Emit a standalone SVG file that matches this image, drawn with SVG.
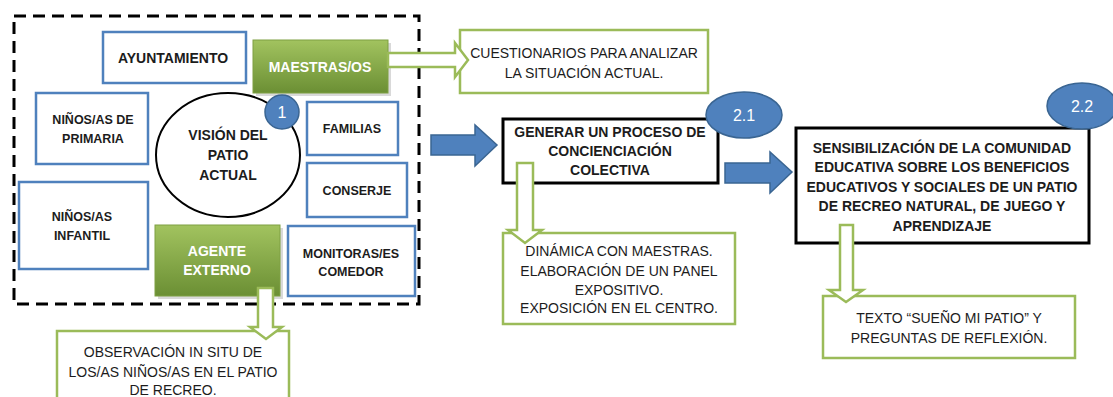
<svg xmlns="http://www.w3.org/2000/svg" width="1113" height="397" viewBox="0 0 1113 397">
<defs>
<linearGradient id="gg" x1="0" y1="0" x2="0" y2="1">
<stop offset="0" stop-color="#a2c35f"/>
<stop offset="1" stop-color="#6b8f34"/>
</linearGradient>
<style>
text{font-family:"Liberation Sans",Arial,sans-serif;fill:#1c1c1c;text-anchor:middle}
.b{font-weight:bold}
.s{font-size:12.5px}
.m{font-size:14px}
.w{fill:#ffffff}
.blue{fill:#ffffff;stroke:#4f81bd;stroke-width:2.5}
.green{fill:#ffffff;stroke:#9bbb59;stroke-width:2.5}
.black{fill:#ffffff;stroke:#000000;stroke-width:3}
.gbox{fill:url(#gg);stroke:#7fa043;stroke-width:1}
.badge{fill:#4f81bd;stroke:#3a6592;stroke-width:1.5}
.bt{fill:#ffffff;font-size:16px}
.harrow{fill:#ffffff;stroke:#9bbb59;stroke-width:2.5;stroke-linejoin:miter}
.barrow{fill:#4f81bd;stroke:#3a6592;stroke-width:1.5}
</style>
</defs>
<rect width="1113" height="397" fill="#ffffff"/>
<rect id="frame" x="14" y="16" width="405" height="288" fill="none" stroke="#000" stroke-width="3" stroke-dasharray="12 7"/>

<g id="ayuntamiento"><rect class="blue" x="103" y="32" width="143" height="51"/><text class="b" font-size="14" x="173" y="63">AYUNTAMIENTO</text></g>
<g id="maestras"><rect x="256" y="43" width="135" height="53" fill="#000" opacity="0.15"/><rect class="gbox" x="253" y="40" width="135" height="53"/><text class="b m w" x="320" y="72">MAESTRAS/OS</text></g>
<g id="primaria"><rect class="blue" x="36" y="93" width="112" height="71"/><text class="b s" x="93" y="124">NIÑOS/AS DE</text><text class="b s" x="93" y="143">PRIMARIA</text></g>
<g id="vision"><ellipse cx="228" cy="155" rx="72" ry="62" fill="#fff" stroke="#000" stroke-width="2"/><text class="b m" x="228" y="140">VISIÓN DEL</text><text class="b m" x="228" y="160">PATIO</text><text class="b m" x="228" y="180">ACTUAL</text></g>
<g id="badge1"><circle class="badge" cx="282" cy="112" r="17"/><text class="bt" x="282" y="118">1</text></g>
<g id="familias"><rect class="blue" x="307" y="102" width="91" height="53"/><text class="b s" x="352" y="133">FAMILIAS</text></g>
<g id="conserje"><rect class="blue" x="307" y="163" width="100" height="54"/><text class="b s" x="357" y="195">CONSERJE</text></g>
<g id="infantil"><rect class="blue" x="19" y="182" width="129" height="87"/><text class="b s" x="82" y="221">NIÑOS/AS</text><text class="b s" x="82" y="240">INFANTIL</text></g>
<g id="agente"><rect x="158" y="228" width="125" height="71" fill="#000" opacity="0.15"/><rect class="gbox" x="155" y="225" width="125" height="71"/><text class="b m w" x="217" y="256">AGENTE</text><text class="b m w" x="217" y="275">EXTERNO</text></g>
<g id="monitoras"><rect class="blue" x="288" y="226" width="127" height="70"/><text class="b s" x="351" y="258">MONITORAS/ES</text><text class="b s" x="351" y="276">COMEDOR</text></g>

<g id="cuestionarios"><rect class="green" x="460" y="30" width="248" height="63"/><text class="m" x="584" y="58">CUESTIONARIOS PARA ANALIZAR</text><text class="m" x="584" y="78">LA SITUACIÓN ACTUAL.</text></g>
<g id="generar"><rect class="black" x="503" y="119" width="215" height="64"/><text class="b m" x="610" y="137">GENERAR UN PROCESO DE</text><text class="b m" x="610" y="156">CONCIENCIACIÓN</text><text class="b m" x="610" y="175">COLECTIVA</text></g>
<g id="dinamica"><rect class="green" x="503" y="233" width="232" height="91"/><text class="m" x="619" y="256">DINÁMICA CON MAESTRAS.</text><text class="m" x="619" y="276">ELABORACIÓN DE UN PANEL</text><text class="m" x="619" y="295">EXPOSITIVO.</text><text class="m" x="619" y="313">EXPOSICIÓN EN EL CENTRO.</text></g>
<g id="sensibilizacion"><rect class="black" x="796" y="128" width="293" height="115"/><text class="b m" x="942" y="153">SENSIBILIZACIÓN DE LA COMUNIDAD</text><text class="b m" x="942" y="172">EDUCATIVA SOBRE LOS BENEFICIOS</text><text class="b m" x="942" y="192">EDUCATIVOS Y SOCIALES DE UN PATIO</text><text class="b m" x="942" y="211">DE RECREO NATURAL, DE JUEGO Y</text><text class="b m" x="942" y="231">APRENDIZAJE</text></g>
<g id="texto"><rect class="green" x="823" y="296" width="252" height="62"/><text class="m" x="949" y="323">TEXTO “SUEÑO MI PATIO” Y</text><text class="m" x="949" y="343">PREGUNTAS DE REFLEXIÓN.</text></g>
<g id="observacion"><rect class="green" x="57" y="331" width="232" height="80"/><text class="m" x="173" y="357">OBSERVACIÓN IN SITU DE</text><text class="m" x="173" y="377">LOS/AS NIÑOS/AS EN EL PATIO</text><text class="m" x="173" y="395">DE RECREO.</text></g>

<g id="connectors">
<path class="harrow" d="M388,53 L455,53 L455,43 L468,60 L455,77 L455,67 L388,67 Z"/>
<path class="harrow" d="M258,288 L273,288 L273,327 L282,327 L266,339 L250,327 L258,327 Z"/>
<path class="harrow" d="M517,163 L533,163 L533,230 L542,230 L525,243 L508,230 L517,230 Z"/>
<path class="harrow" d="M840,225 L853,225 L853,290 L863,290 L846,302 L829,290 L840,290 Z"/>
<path class="barrow" d="M431,135 L475,135 L475,125 L497,145 L475,166 L475,155 L431,155 Z"/>
<path class="barrow" d="M725,163 L770,163 L770,152 L792,172 L770,193 L770,183 L725,183 Z"/>
</g>

<g id="badge21"><ellipse class="badge" cx="744" cy="115" rx="38" ry="23"/><text class="bt" x="744" y="121">2.1</text></g>
<g id="badge22"><ellipse class="badge" cx="1082" cy="106" rx="35" ry="23"/><text class="bt" x="1082" y="112">2.2</text></g>
</svg>
